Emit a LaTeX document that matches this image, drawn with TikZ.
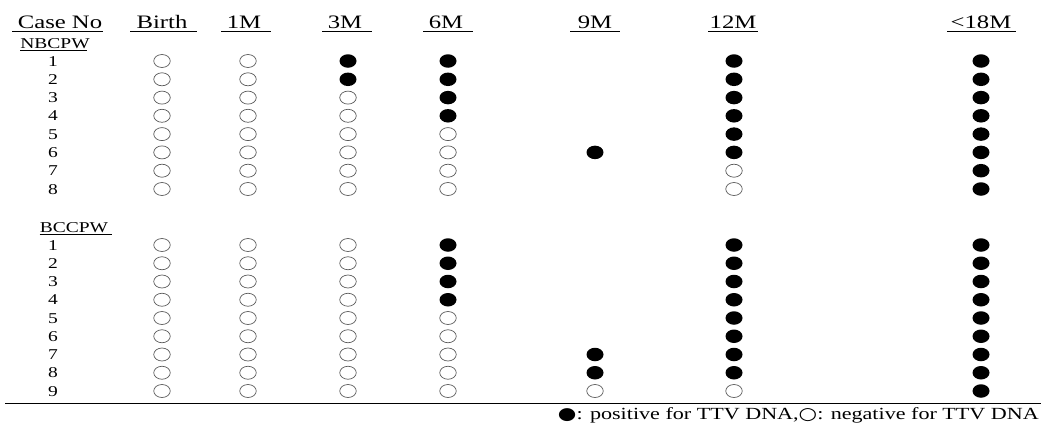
\documentclass[tikz,border=0pt]{standalone}
\usepackage{fontspec}
\setmainfont{Liberation Serif}[FakeStretch=1.3]
\newfontfamily\symfont{DejaVu Sans}[FakeStretch=1.25]
\usetikzlibrary{shapes.geometric}
\newcommand\crow[4]{%
  \node[txt] (#1n#2) at (53,#3+5) {#2};
  \foreach \s [count=\j] in {#4} {%
    \pgfmathsetmacro\cx{{162,248,348,448,595,734,981}[\j-1]}
    \ifnum\s=0 \node[negdot] (#1-#2-\j) at (\cx,#3) {};\fi
    \ifnum\s=1 \node[posdot] (#1-#2-\j) at (\cx,#3) {};\fi
  }%
}
\begin{document}
\begin{tikzpicture}[x=1pt,y=-1pt,
  txt/.style={inner sep=0pt, anchor=base, font=\fontsize{15}{16}\selectfont},
  hdr/.style={inner sep=0pt, anchor=base, font=\fontsize{19}{20}\selectfont},
  leg/.style={inner sep=0pt, anchor=base east, font=\fontsize{17}{18}\selectfont},
  negdot/.style={ellipse, draw=black!65, line width=0.7pt, minimum width=16.5pt, minimum height=13pt, inner sep=0pt},
  posdot/.style={ellipse, fill=black, minimum width=17pt, minimum height=13.5pt, inner sep=0pt},
  rule/.style={line width=0.8pt}]
\useasboundingbox (0,0) rectangle (1041,423);
% headers
\node[hdr] (hcase) at (60,28) {Case No};
\node[hdr] (hbirth) at (162,28) {Birth};
\node[hdr] (h1) at (244,28) {1M};
\node[hdr] (h3) at (345,28) {3M};
\node[hdr] (h6) at (446,28) {6M};
\node[hdr] (h9) at (595,28) {9M};
\node[hdr] (h12) at (733,28) {12M};
\node[hdr] (h18) at (981,28) {<18M};
\draw[rule] (12,31) -- (103,31);
\draw[rule] (130,31) -- (197,31);
\draw[rule] (221,31) -- (271,31);
\draw[rule] (322,31) -- (372,31);
\draw[rule] (423,31) -- (473,31);
\draw[rule] (570,31) -- (620,31);
\draw[rule] (708,31) -- (758,31);
\draw[rule] (947,31) -- (1016,31);
% NBCPW group
\node[txt] (gnb) at (55,48) {NBCPW};
\draw[rule] (gnb.base west) ++(0,2.5) -- ++(67,0);
\crow{nb}{1}{61}{0,0,1,1,2,1,1}
\crow{nb}{2}{79.3}{0,0,1,1,2,1,1}
\crow{nb}{3}{97.6}{0,0,0,1,2,1,1}
\crow{nb}{4}{115.8}{0,0,0,1,2,1,1}
\crow{nb}{5}{134.1}{0,0,0,0,2,1,1}
\crow{nb}{6}{152.4}{0,0,0,0,1,1,1}
\crow{nb}{7}{170.7}{0,0,0,0,2,0,1}
\crow{nb}{8}{189}{0,0,0,0,2,0,1}
% BCCPW group
\node[txt] (gbc) at (74,232) {BCCPW};
\draw[rule] (gbc.base west) ++(0,2.5) -- ++(72,0);
\crow{bc}{1}{245}{0,0,0,1,2,1,1}
\crow{bc}{2}{263.25}{0,0,0,1,2,1,1}
\crow{bc}{3}{281.5}{0,0,0,1,2,1,1}
\crow{bc}{4}{299.75}{0,0,0,1,2,1,1}
\crow{bc}{5}{318}{0,0,0,0,2,1,1}
\crow{bc}{6}{336.25}{0,0,0,0,2,1,1}
\crow{bc}{7}{354.5}{0,0,0,0,1,1,1}
\crow{bc}{8}{372.75}{0,0,0,0,1,1,1}
\crow{bc}{9}{391}{0,0,0,0,0,0,1}
\draw[rule] (5,403.5) -- (1041,403.5);
\node[leg] (legend) at (1039,419) {{\symfont ●}: positive for TTV DNA,{\symfont ○}: negative for TTV DNA};
\end{tikzpicture}
\end{document}
